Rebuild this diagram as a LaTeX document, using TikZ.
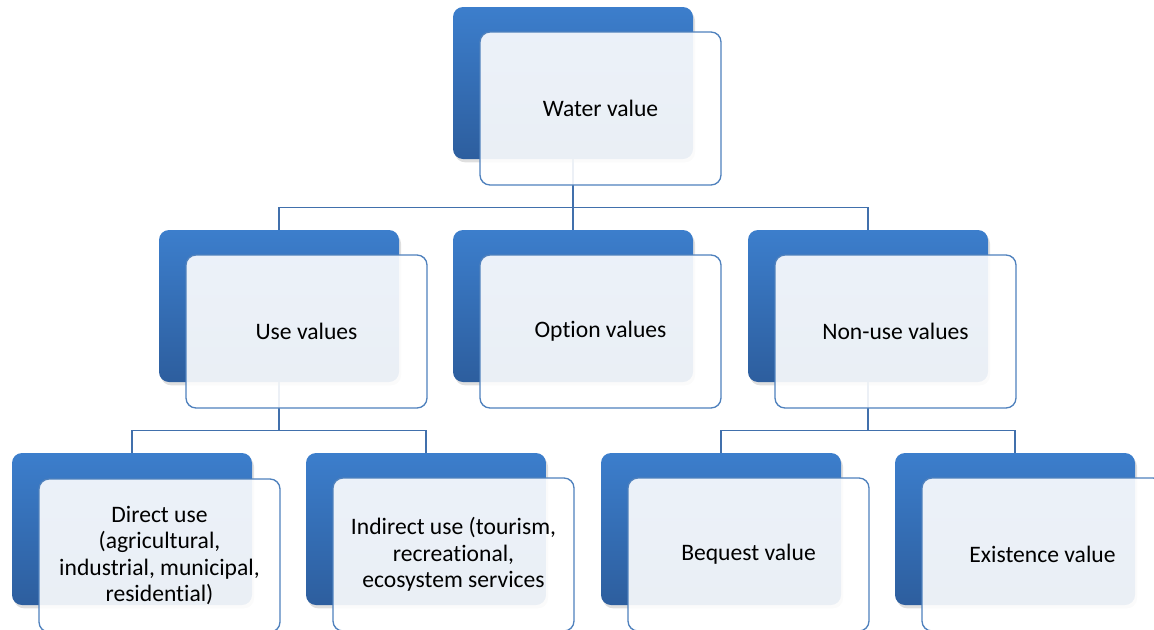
\documentclass[tikz,border=0pt]{standalone}
\usepackage{fontspec}
\setmainfont{Carlito}[Ligatures=NoCommon]
\usetikzlibrary{shadows,backgrounds}

\definecolor{boxtop}{RGB}{60,126,204}
\definecolor{boxbottom}{RGB}{45,94,158}
\definecolor{boxline}{RGB}{79,129,189}
\definecolor{linkline}{RGB}{65,112,172}

\begin{document}
\begin{tikzpicture}[x=0.75pt,y=-0.75pt,
    valuebg/.style={rectangle,rounded corners=7.5pt,minimum width=180pt,minimum height=114pt,
      top color=boxtop,bottom color=boxbottom,draw=none,
      drop shadow={shadow xshift=1.5pt,shadow yshift=-2.5pt,opacity=.25}},
    valuebox/.style={rectangle,rounded corners=7.5pt,minimum width=180.75pt,minimum height=114.75pt,
      draw=boxline,line width=1pt,fill=white,fill opacity=.9,text opacity=1,
      align=center,font=\fontsize{17.7}{19.9}\selectfont},
    link/.style={draw=linkline,line width=1.1pt}]

  \useasboundingbox (0,0) rectangle (1154,629);

  % top
  \node[valuebg] (waterbg) at (573,83) {};
  \node[valuebox] (water) at ([shift={(27.5,25.5)}]waterbg.center) {Water value};

  % second row
  \node[valuebg] (usebg)    at (279,306) {};
  \node[valuebox] (use)     at ([shift={(27.5,25.5)}]usebg.center) {Use values};
  \node[valuebg] (optionbg) at (573,306) {};
  \node[valuebox] (option)  at ([shift={(27.5,25.5)}]optionbg.center) {Option values};
  \node[valuebg] (nonusebg) at (868,306) {};
  \node[valuebox] (nonuse)  at ([shift={(27.5,25.5)}]nonusebg.center) {Non-use values};

  % third row
  \node[valuebg] (directbg)    at (132,529) {};
  \node[valuebox] (direct)     at ([shift={(27.5,26.5)}]directbg.center)
    {Direct use\\(agricultural,\\industrial, municipal,\\residential)};
  \node[valuebg] (indirectbg)  at (426,529) {};
  \node[valuebox] (indirect)   at ([shift={(27.5,25.5)}]indirectbg.center)
    {Indirect use (tourism,\\recreational,\\ecosystem services};
  \node[valuebg] (bequestbg)   at (721,529) {};
  \node[valuebox] (bequest)    at ([shift={(27.5,25.5)}]bequestbg.center) {Bequest value};
  \node[valuebg] (existencebg) at (1015,529) {};
  \node[valuebox] (existence)  at ([shift={(27.5,25.5)}]existencebg.center) {Existence value};

  % tree lines go behind the boxes
  \begin{pgfonlayer}{background}
    \draw[link] (waterbg.south) -- ++(0,48) -| (usebg.north);
    \draw[link] (waterbg.south) -- ++(0,48) -| (nonusebg.north);
    \draw[link] (waterbg.south) -- (optionbg.north);
    \draw[link] (usebg.south) -- ++(0,48) -| (directbg.north);
    \draw[link] (usebg.south) -- ++(0,48) -| (indirectbg.north);
    \draw[link] (nonusebg.south) -- ++(0,48) -| (bequestbg.north);
    \draw[link] (nonusebg.south) -- ++(0,48) -| (existencebg.north);
  \end{pgfonlayer}

\end{tikzpicture}
\end{document}
